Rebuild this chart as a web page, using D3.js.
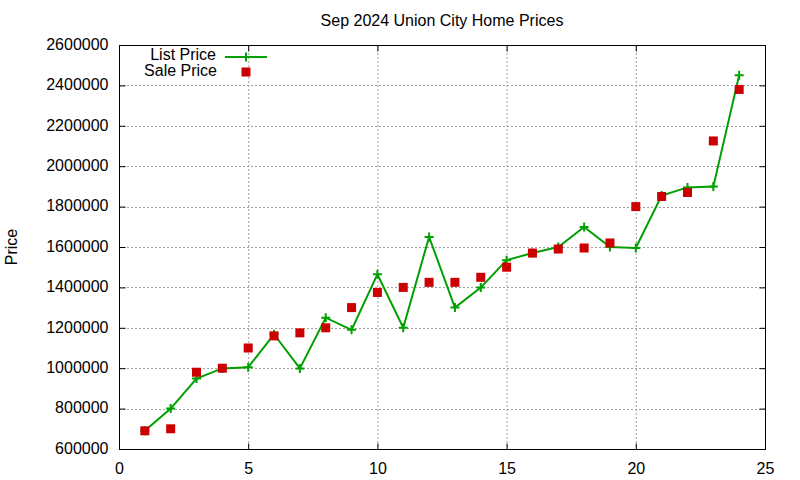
<!DOCTYPE html>
<html><head><meta charset="utf-8">
<script src="https://cdn.jsdelivr.net/npm/d3@7"></script>
<style>body{margin:0;background:#fff}svg{display:block}text{font-family:"Liberation Sans",Arial,sans-serif;font-size:16px;fill:#000}</style>
</head><body>
<svg id="c" width="800" height="480"></svg>
<script>
const title = "Sep 2024 Union City Home Prices";
const yLabel = "Price";
const seriesNames = ["List Price", "Sale Price"];
const index = [1,2,3,4,5,6,7,8,9,10,11,12,13,14,15,16,17,18,19,20,21,22,23,24];
const listPrice = [690000,800000,949000,999000,1005000,1168000,999000,1250000,1190000,1465000,1200000,1650000,1300000,1399000,1535000,1570000,1600000,1699000,1600000,1595000,1855000,1895000,1899000,2450000];
const salePrice = [690000,700000,980000,1000000,1100000,1160000,1175000,1200000,1300000,1375000,1400000,1425000,1425000,1450000,1500000,1570000,1590000,1595000,1620000,1800000,1850000,1870000,2125000,2380000];
const xTicks = [0,5,10,15,20,25];
const yTicks = [600000,800000,1000000,1200000,1400000,1600000,1800000,2000000,2200000,2400000,2600000];

const svg = d3.select("#c");
const L=119, R=765, T=45, B=449;
const x = d3.scaleLinear().domain([0,25]).range([L,R]);
const y = d3.scaleLinear().domain([600000,2600000]).range([B,T]);
const green = "#00a000", red = "#cc0000";

// grid
const grid = svg.append("g").attr("stroke","#a0a0a0").attr("stroke-width",1).attr("stroke-dasharray","2,2");
xTicks.filter(t=>t>0&&t<25).forEach(t=>grid.append("line").attr("x1",x(t)+0.5).attr("x2",x(t)+0.5).attr("y1",T).attr("y2",B));
yTicks.filter(t=>t>600000&&t<2600000).forEach(t=>grid.append("line").attr("x1",L).attr("x2",R).attr("y1",Math.round(y(t))+0.5).attr("y2",Math.round(y(t))+0.5));

// axes
const yAxis = d3.axisLeft(y).tickValues(yTicks).tickFormat(d3.format("d")).tickSize(-6).tickPadding(11);
const gy = svg.append("g").attr("transform",`translate(${L+0.5},0)`).call(yAxis);
const gy2 = svg.append("g").attr("transform",`translate(${R+0.5},0)`).call(d3.axisRight(y).tickValues(yTicks).tickSize(-6).tickFormat(""));
const xAxis = d3.axisBottom(x).tickValues(xTicks).tickFormat(d3.format("d")).tickSize(-6).tickPadding(13);
const gx = svg.append("g").attr("transform",`translate(0,${B+0.5})`).call(xAxis);
const gx2 = svg.append("g").attr("transform",`translate(0,${T+0.5})`).call(d3.axisTop(x).tickValues(xTicks).tickSize(-6).tickFormat(""));
[gy,gy2,gx,gx2].forEach(g=>{g.select(".domain").remove();g.selectAll("line").attr("stroke","#000");g.selectAll("text").attr("font-family",null).attr("font-size",null).attr("fill","#000");});
gy.selectAll("text").attr("dy","0.27em");
gx.selectAll("text").attr("dy","0.71em");

svg.append("rect").attr("x",L+0.5).attr("y",T+0.5).attr("width",R-L).attr("height",B-T).attr("fill","none").attr("stroke","#000");

// title and label
svg.append("text").attr("x",(L+R)/2).attr("y",26).attr("text-anchor","middle").text(title);
svg.append("text").attr("transform",`translate(17,247) rotate(-90)`).attr("text-anchor","middle").text(yLabel);

// list line
const listData = index.map((d,i)=>[d,listPrice[i]]);
svg.append("path").datum(listData).attr("fill","none").attr("stroke",green).attr("stroke-width",2)
  .attr("d",d3.line().x(d=>x(d[0])).y(d=>y(d[1])));
function plus(g,cx,cy){g.append("path").attr("d",`M${cx-4.5},${cy}H${cx+4.5}M${cx},${cy-4.5}V${cy+4.5}`).attr("stroke",green).attr("stroke-width",2).attr("fill","none");}
const pg = svg.append("g");
listData.forEach(d=>plus(pg,x(d[0]),y(d[1])));

// sale squares
svg.append("g").selectAll("rect").data(index.map((d,i)=>[d,salePrice[i]])).join("rect")
  .attr("x",d=>x(d[0])-4.5).attr("y",d=>y(d[1])-4.5).attr("width",9).attr("height",9).attr("fill",red);

// legend
svg.append("text").attr("x",216).attr("y",60).attr("text-anchor","end").text(seriesNames[0]);
svg.append("line").attr("x1",225).attr("x2",267).attr("y1",57).attr("y2",57).attr("stroke",green).attr("stroke-width",2);
plus(svg,246,57);
svg.append("text").attr("x",217).attr("y",76).attr("text-anchor","end").text(seriesNames[1]);
svg.append("rect").attr("x",246-4.5).attr("y",72-4.5).attr("width",9).attr("height",9).attr("fill",red);
</script>
</body></html>
